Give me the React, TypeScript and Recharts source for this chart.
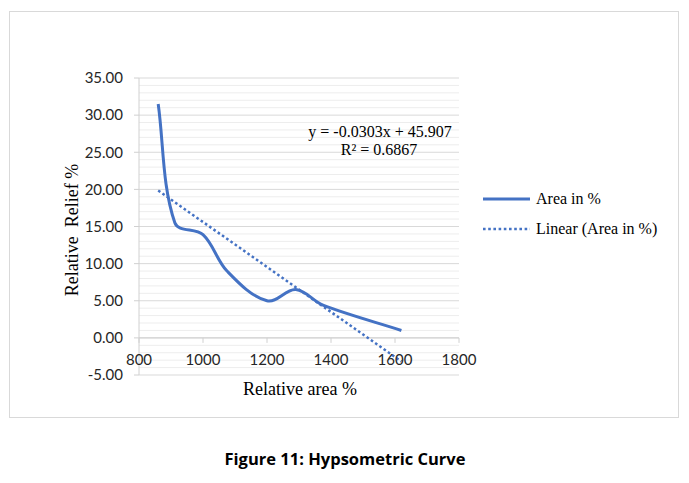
import { LineChart, Line, XAxis, YAxis, CartesianGrid, ReferenceLine } from 'recharts'

// relative area (x) vs relative relief (y)
const relArea = [860, 912, 1000, 1075, 1200, 1290, 1375, 1620]
const relRelief = [31.5, 15.5, 13.9, 9.0, 5.0, 6.5, 4.4, 1.0]
// linear trendline end points (Excel draws it over the data range)
const trendArea = [860, 1620]
const trendRelief = [19.85, -3.18]

const xTicks = [800, 1000, 1200, 1400, 1600, 1800]
const yTicks = [-5, 0, 5, 10, 15, 20, 25, 30, 35]
const yMinor: number[] = []
for (let v = -5; v <= 35; v++) if (v % 5 !== 0) yMinor.push(v)

const curveData = relArea.map((x, i) => ({ x, y: relRelief[i] }))
const trendData = trendArea.map((x, i) => ({ x, y: trendRelief[i] }))

const W = 689, H = 483
const PL = 139, PT = 78, PR = 459, PB = 375
const YAX_W = 60, XAX_H = 30
const Y0 = PT + ((PB - PT) * 35) / 40 // pixel row of value 0, where Excel crosses the x axis

const BLUE = '#4472C4'
const AXIS = '#d0d0d0'
const SERIF = '"Liberation Serif", "Times New Roman", serif'
const SANS = 'Lato, "Open Sans", sans-serif'

// smoothing close to Excel's: tangent from neighbours, handle length tied to the segment
const excelSmooth: any = (ctx: any) => {
  let pts: number[][] = []
  const dir = (i: number) => {
    const n = pts.length
    const a = pts[Math.max(i - 1, 0)], b = pts[Math.min(i + 1, n - 1)]
    const dx = b[0] - a[0], dy = b[1] - a[1]
    const l = Math.hypot(dx, dy) || 1
    return [dx / l, dy / l]
  }
  return {
    areaStart() {}, areaEnd() {},
    lineStart() { pts = [] },
    point(x: number, y: number) { pts.push([+x, +y]) },
    lineEnd() {
      const n = pts.length
      if (!n) return
      ctx.moveTo(pts[0][0], pts[0][1])
      for (let i = 0; i < n - 1; i++) {
        const p1 = pts[i], p2 = pts[i + 1]
        const seg = Math.hypot(p2[0] - p1[0], p2[1] - p1[1]) * 0.33
        const d1 = dir(i), d2 = dir(i + 1)
        ctx.bezierCurveTo(p1[0] + d1[0] * seg, p1[1] + d1[1] * seg, p2[0] - d2[0] * seg, p2[1] - d2[1] * seg, p2[0], p2[1])
      }
    },
  }
}

const XTick = ({ x, payload }: any) => (
  <g>
    <line x1={x} x2={x} y1={Y0} y2={Y0 + 5} stroke={AXIS} />
    <text x={x} y={Y0 + 22} dy="0.355em" textAnchor="middle" fontFamily={SANS} fontSize={15} fill="#262626">{payload.value}</text>
  </g>
)

export default function App() {
  return (
    <div style={{ position: 'absolute', left: 0, top: 0, width: W, height: H, background: '#fff' }}>
      <div style={{ position: 'absolute', left: 9, top: 11, width: 668, height: 405, border: '1.5px solid #d9d9d9' }} />
      <LineChart width={W} height={H} margin={{ top: PT, left: PL - YAX_W, right: W - PR, bottom: H - PB - XAX_H }} style={{ position: 'absolute', left: 0, top: 0 }}>
        <CartesianGrid vertical={false} horizontalValues={yMinor} stroke="#ededed" syncWithTicks={false} />
        <CartesianGrid vertical={false} horizontalValues={yTicks} stroke="#d9d9d9" syncWithTicks={false} />
        <XAxis dataKey="x" type="number" domain={[800, 1800]} ticks={xTicks} height={XAX_H} axisLine={false} tickLine={false} tick={<XTick />} interval={0} allowDataOverflow />
        <YAxis type="number" domain={[-5, 35]} ticks={yTicks} width={YAX_W} axisLine={{ stroke: AXIS }} tickLine={{ stroke: AXIS }} tickSize={5} tickMargin={11} interval={0}
          tickFormatter={(v: number) => v.toFixed(2)} tick={{ fontFamily: SANS, fontSize: 15, fill: '#262626' }} allowDataOverflow />
        <ReferenceLine y={0} stroke={AXIS} />
        <Line data={curveData} dataKey="y" name="Area in %" type={excelSmooth} stroke={BLUE} strokeWidth={3} dot={false} activeDot={false} isAnimationActive={false} />
        <Line data={trendData} dataKey="y" name="Linear (Area in %)" type="linear" stroke={BLUE} strokeWidth={2.5} strokeDasharray="2.6 2.6" dot={false} activeDot={false} isAnimationActive={false} />
      </LineChart>
      <div style={{ position: 'absolute', left: 482, top: 184, fontFamily: SERIF, fontSize: 16, color: '#000' }}>
        <div style={{ display: 'flex', alignItems: 'center', height: 30 }}>
          <svg width={54} height={10}><line x1={1} x2={48} y1={5} y2={5} stroke={BLUE} strokeWidth={3} /></svg>
          <span>Area in %</span>
        </div>
        <div style={{ display: 'flex', alignItems: 'center', height: 30 }}>
          <svg width={54} height={10}><line x1={1} x2={48} y1={5} y2={5} stroke={BLUE} strokeWidth={2.5} strokeDasharray="2.6 2.6" /></svg>
          <span>Linear (Area in %)</span>
        </div>
      </div>
      <svg width={W} height={H} style={{ position: 'absolute', left: 0, top: 0, pointerEvents: 'none' }}>
        <text x={380} y={131} dy="0.35em" textAnchor="middle" fontFamily={SERIF} fontSize={16}>y = -0.0303x + 45.907</text>
        <text x={379} y={149} dy="0.35em" textAnchor="middle" fontFamily={SERIF} fontSize={16}>R² = 0.6867</text>
        <text x={300} y={389} dy="0.35em" textAnchor="middle" fontFamily={SERIF} fontSize={18}>Relative area %</text>
        <text transform="translate(72 230) rotate(-90)" dy="0.35em" textAnchor="middle" fontFamily={SERIF} fontSize={18} style={{ whiteSpace: 'pre' }}>{'Relative  Relief %'}</text>
        <text x={345} y={459} dy="0.35em" textAnchor="middle" fontFamily='"Open Sans", sans-serif' fontWeight={700} fontSize={16.5}>Figure 11: Hypsometric Curve</text>
      </svg>
    </div>
  )
}
